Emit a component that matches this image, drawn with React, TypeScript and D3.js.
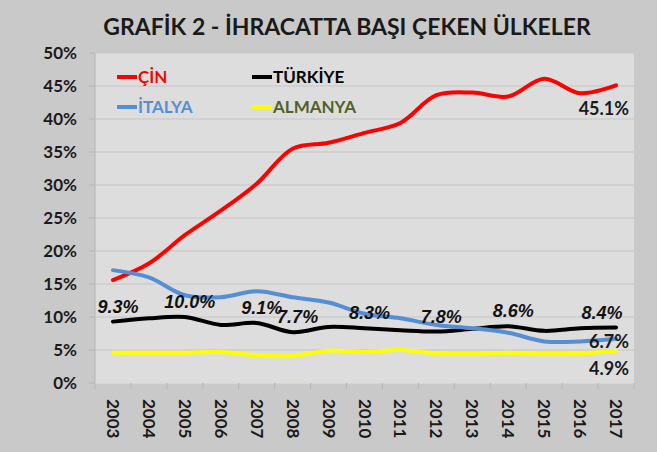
import { useRef, useEffect } from 'react'
import * as d3 from 'd3'

const years = ['2003', '2004', '2005', '2006', '2007', '2008', '2009', '2010', '2011', '2012', '2013', '2014', '2015', '2016', '2017']
const cin = [15.6, 18.1, 22.4, 26.1, 30.2, 35.5, 36.4, 37.9, 39.4, 43.6, 44.0, 43.4, 46.1, 43.9, 45.1]
const turkiye = [9.3, 9.8, 10.0, 8.8, 9.1, 7.7, 8.5, 8.3, 8.0, 7.8, 8.2, 8.6, 7.9, 8.3, 8.4]
const italya = [17.1, 16.0, 13.3, 13.0, 13.9, 13.0, 12.2, 10.5, 9.8, 8.8, 8.3, 7.6, 6.3, 6.3, 6.7]
const almanya = [4.6, 4.6, 4.6, 4.7, 4.2, 4.1, 4.9, 4.7, 5.0, 4.5, 4.4, 4.6, 4.4, 4.5, 4.9]
const turkiyeLabelYears = ['2003', '2005', '2007', '2008', '2010', '2012', '2014', '2017']
const yTicks = [0, 5, 10, 15, 20, 25, 30, 35, 40, 45, 50]

const series = [
  { name: 'ÇİN', values: cin, color: '#ff0000', text: '#ff0000' },
  { name: 'TÜRKİYE', values: turkiye, color: '#000000', text: '#000000' },
  { name: 'İTALYA', values: italya, color: '#558ed5', text: '#558ed5' },
  { name: 'ALMANYA', values: almanya, color: '#ffff00', text: '#4f6228' },
]

const W = 657
const H = 452
const font = 'Lato, "Open Sans", sans-serif'

const App = () => {
  const svgRef = useRef<SVGSVGElement>(null)

  useEffect(() => {
    const svg = d3.select(svgRef.current)
    svg.selectAll('*').remove()
    const left = 95
    const right = 634
    const top = 53
    const bottom = 383

    svg.append('rect').attr('width', W).attr('height', H).attr('fill', '#c9c9c9')
    svg.append('rect').attr('x', left).attr('y', top).attr('width', right - left).attr('height', bottom - top).attr('fill', '#dddddd')

    const x = d3.scaleBand().domain(years).range([left, right])
    const y = d3.scaleLinear().domain([0, 50]).range([bottom, top])
    const cx = (yr) => x(yr) + x.bandwidth() / 2

    // grid
    svg.append('g').selectAll('line').data(yTicks).join('line')
      .attr('x1', left).attr('x2', right)
      .attr('y1', (d) => y(d)).attr('y2', (d) => y(d))
      .attr('stroke', '#c6c6c6').attr('stroke-width', 1.2)
    // y axis line + ticks
    svg.append('line').attr('x1', left).attr('x2', left).attr('y1', top).attr('y2', bottom).attr('stroke', '#b5b5b5')
    svg.append('g').selectAll('line').data(yTicks).join('line')
      .attr('x1', left - 6).attr('x2', left)
      .attr('y1', (d) => y(d)).attr('y2', (d) => y(d))
      .attr('stroke', '#b5b5b5')
    svg.append('g').selectAll('text').data(yTicks).join('text')
      .attr('x', 77).attr('y', (d) => y(d)).attr('dy', '0.35em')
      .attr('text-anchor', 'end').attr('font-family', font).attr('font-weight', 'bold')
      .attr('font-size', 17).attr('fill', '#1a1a1a')
      .text((d) => d + '%')

    // x axis ticks
    const bounds = years.map((d) => x(d)).concat([right])
    svg.append('line').attr('x1', left).attr('x2', right).attr('y1', bottom).attr('y2', bottom).attr('stroke', '#e6e6e6')
    svg.append('g').selectAll('line').data(bounds).join('line')
      .attr('x1', (d) => d).attr('x2', (d) => d)
      .attr('y1', bottom).attr('y2', bottom + 6)
      .attr('stroke', '#b5b5b5')
    svg.append('g').selectAll('text').data(years).join('text')
      .attr('transform', (d) => `translate(${cx(d)}, 399) rotate(90)`)
      .attr('dy', '0.35em')
      .attr('font-family', font).attr('font-weight', 'bold').attr('font-size', 17).attr('fill', '#1a1a1a')
      .text((d) => d)

    // title
    svg.append('text').attr('x', 347).attr('y', 35).attr('text-anchor', 'middle')
      .attr('font-family', font).attr('font-weight', 'bold').attr('font-size', 23).attr('fill', '#1a1a1a')
      .text('GRAFİK 2 - İHRACATTA BAŞI ÇEKEN ÜLKELER')

    // lines
    const line = d3.line<number>()
      .x((d, i) => cx(years[i]))
      .y((d) => y(d))
      .curve(d3.curveCatmullRom.alpha(0.5))
    const drawOrder = [series[0], series[1], series[2], series[3]]
    svg.append('g').selectAll('path').data(drawOrder).join('path')
      .attr('d', (s) => line(s.values))
      .attr('fill', 'none').attr('stroke', (s) => s.color).attr('stroke-width', 4)
      .attr('stroke-linecap', 'round')

    // legend
    const lg = svg.append('g')
    series.forEach((s, i) => {
      const lx = i % 2 === 0 ? 117 : 252
      const ly = i < 2 ? 77 : 107
      lg.append('line').attr('x1', lx).attr('x2', lx + 20).attr('y1', ly).attr('y2', ly)
        .attr('stroke', s.color).attr('stroke-width', 4)
      lg.append('text').attr('x', lx + 21).attr('y', ly).attr('dy', '0.36em')
        .attr('font-family', font).attr('font-weight', 'bold').attr('font-size', 17).attr('fill', s.text)
        .text(s.name)
    })

    // Türkiye labels
    svg.append('g').selectAll('text').data(turkiyeLabelYears).join('text')
      .attr('x', (d) => Math.min(cx(d) + 5, right - 32))
      .attr('y', (d) => y(turkiye[years.indexOf(d)]) - 9)
      .attr('text-anchor', 'middle')
      .attr('font-family', '"Liberation Sans", Arial, sans-serif').attr('font-weight', 'bold').attr('font-style', 'italic')
      .attr('font-size', 18).attr('fill', '#111')
      .text((d) => turkiye[years.indexOf(d)].toFixed(1) + '%')

    // end labels
    const last = years.length - 1
    const endX = cx(years[last]) + 13
    const endLabels = [
      { v: cin[last], dy: 30 },
      { v: italya[last], dy: 9 },
      { v: almanya[last], dy: 24 },
    ]
    svg.append('g').selectAll('text').data(endLabels).join('text')
      .attr('x', endX).attr('y', (d) => y(d.v) + d.dy)
      .attr('text-anchor', 'end')
      .attr('font-family', font).attr('font-weight', 'bold').attr('font-size', 18).attr('fill', '#1a1a1a')
      .text((d) => d.v.toFixed(1) + '%')
  }, [])

  return (
    <svg ref={svgRef} width={W} height={H} style={{ position: 'absolute', left: 0, top: 0 }}></svg>
  )
}

export default App
